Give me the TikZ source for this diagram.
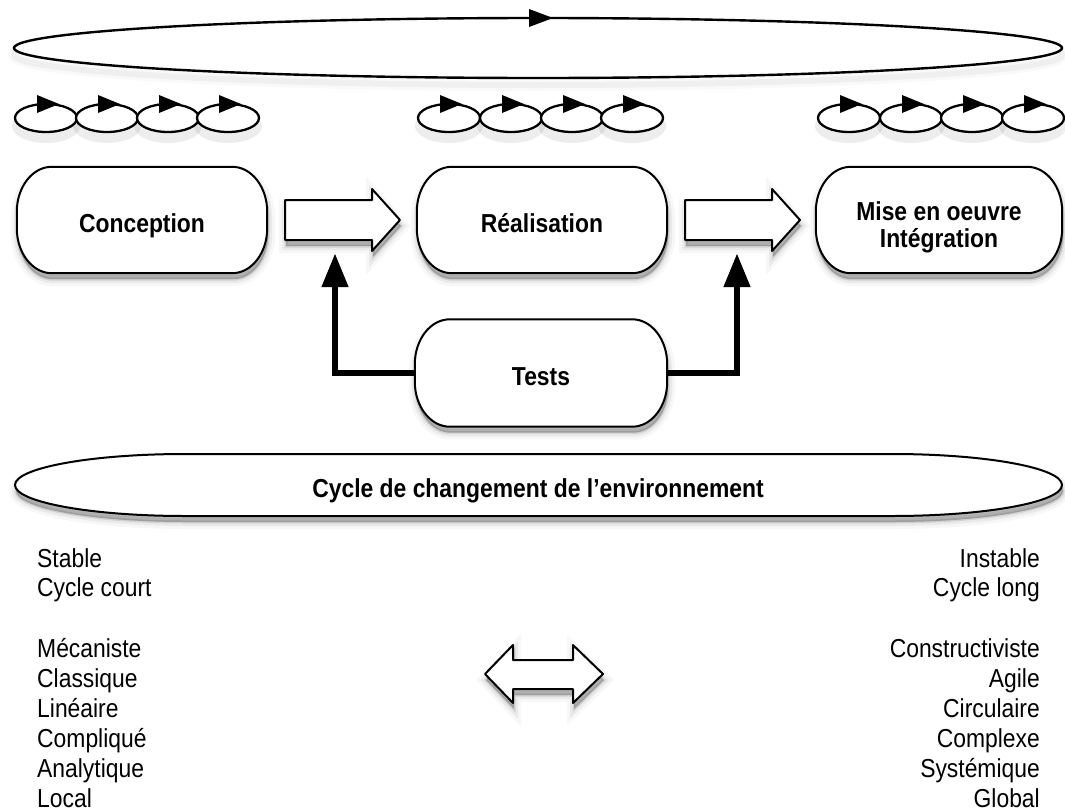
\documentclass[tikz,border=0pt]{standalone}
\usepackage{fontspec}
\setmainfont{Liberation Sans}[FakeStretch=0.88]
\usetikzlibrary{arrows.meta,calc}
\pgfdeclarelayer{background}
\pgfsetlayers{background,main}
\tikzset{
  lbl/.style={font=\fontsize{26}{27}\selectfont\bfseries, align=center, inner sep=0pt, text height=25pt, text depth=0pt},
  item/.style={font=\fontsize{26}{28}\selectfont, inner sep=0pt},
  outline/.style={draw=black, line width=2pt, fill=white, line join=round},
  softshadow/.style={
    preaction={draw=black, line width=14pt, opacity=0.03, transform canvas={xshift=1pt,yshift=-6pt}},
    preaction={draw=black, line width=8pt, opacity=0.05, transform canvas={xshift=1pt,yshift=-6pt}},
    preaction={draw=black, line width=3pt, opacity=0.10, transform canvas={xshift=1pt,yshift=-6pt}},
    preaction={fill=black, opacity=0.25, transform canvas={xshift=1pt,yshift=-6pt}}},
  lightshadow/.style={
    preaction={draw=black, line width=12pt, opacity=0.025, transform canvas={yshift=-7pt}},
    preaction={draw=black, line width=6pt, opacity=0.04, transform canvas={yshift=-7pt}}},
  ellline/.style={draw=black, line width=2.4pt, fill=white},
  conn/.style={line width=6pt, -{Triangle[width=27pt,length=33pt,line width=1pt]}},
  tip/.style={fill=black},
}
\begin{document}
\begin{tikzpicture}[x=1pt,y=-1pt]
\useasboundingbox (0,0) rectangle (1065,811);

% big top cycle
\draw[ellline, lightshadow] (538,48) ellipse [x radius=524, y radius=30];
\fill[tip] (529,9) -- (553,18) -- (529,27) -- cycle;

% small cycles
\foreach \c in {46,107,168,228,449,511,572,632,849,911,972,1033}{
  \fill[black, opacity=0.07] (\c,126) ellipse [x radius=34, y radius=17];
}
\foreach \c in {46,107,168,228,449,511,572,632,849,911,972,1033}{
  \draw[line width=2.3pt, fill=white] (\c,118) ellipse [x radius=31, y radius=14];
}
\foreach \c in {46,107,168,228,449,511,572,632,849,911,972,1033}{
  \fill[tip] (\c-9,95) -- (\c+13,104) -- (\c-9,113) -- cycle;
}

% main boxes
\node[lbl, minimum width=250pt, minimum height=106pt] (conc) at (142,220) {Conception};
\node[lbl, minimum width=250pt, minimum height=106pt] (real) at (542,220) {Réalisation};
\node[lbl, minimum width=246pt, minimum height=106pt, text height=54pt, text depth=0pt] (mise) at (939,220) {Mise en oeuvre\\Intégration};
\node[lbl, minimum width=252pt, minimum height=107pt] (tests) at (541,373) {Tests};

\begin{pgfonlayer}{background}
\foreach \n in {conc,real,mise,tests}{
  \draw[outline, softshadow]
    ($(\n.north west)+(35,0)$) -- ($(\n.north east)+(-35,0)$)
    arc[start angle=-90, end angle=0, x radius=35, y radius=45]
    -- ($(\n.south east)+(0,-45)$)
    arc[start angle=0, end angle=90, x radius=35, y radius=45]
    -- ($(\n.south west)+(35,0)$)
    arc[start angle=90, end angle=180, x radius=35, y radius=45]
    -- ($(\n.north west)+(0,45)$)
    arc[start angle=180, end angle=270, x radius=35, y radius=45] -- cycle;
}
% environment cycle
\draw[outline, softshadow] (15,485)
  arc[start angle=180, end angle=270, x radius=170, y radius=31] -- (892,454)
  arc[start angle=270, end angle=360, x radius=170, y radius=31]
  arc[start angle=0, end angle=90, x radius=170, y radius=31] -- (185,516)
  arc[start angle=90, end angle=180, x radius=170, y radius=31] -- cycle;
\end{pgfonlayer}

% block arrows
\draw[outline, softshadow] (285,200) -- (372,200) -- (372,189) -- (400,220) -- (372,251) -- (372,240) -- (285,240) -- cycle;
\draw[outline, softshadow] (685,200) -- (772,200) -- (772,189) -- (800,220) -- (772,251) -- (772,240) -- (685,240) -- cycle;

% tests feedback
\coordinate (t1) at (335,254);
\coordinate (t2) at (737,254);
\draw[conn] (tests.west) -| (t1);
\draw[conn] (tests.east) -| (t2);

\node[lbl] (env) at (538,485) {Cycle de changement de l'environnement};

% double arrow
\draw[outline, softshadow] (485,674) -- (513,645) -- (513,660) -- (573,660) -- (573,645) -- (603,674) -- (573,703) -- (573,689) -- (513,689) -- (513,703) -- cycle;

% lists
\foreach \t/\y [count=\i] in {Stable/567, Cycle court/596, Mécaniste/657, Classique/687, Linéaire/717, Compliqué/747, Analytique/777, Local/807}{
  \node[item, anchor=base west] (L\i) at (37,\y) {\t};
}
\foreach \t/\y [count=\i] in {Instable/567, Cycle long/596, Constructiviste/657, Agile/687, Circulaire/717, Complexe/747, Systémique/777, Global/807}{
  \node[item, anchor=base east] (R\i) at (1040,\y) {\t};
}
\end{tikzpicture}
\end{document}
